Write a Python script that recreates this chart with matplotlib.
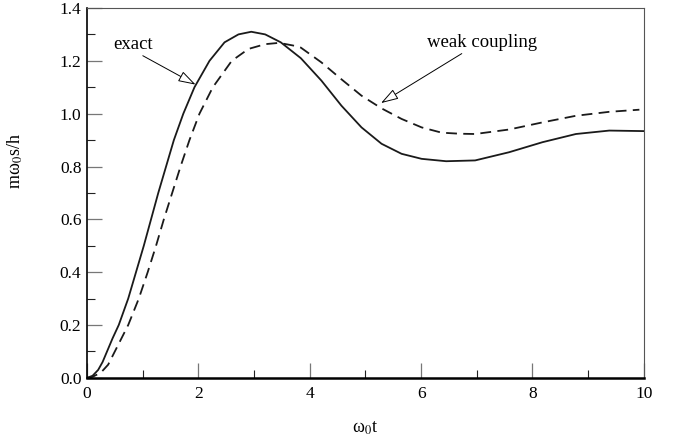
import numpy as np
import matplotlib
matplotlib.use("Agg")
import matplotlib.pyplot as plt
from matplotlib.ticker import MultipleLocator, FormatStrFormatter

plt.rcParams['font.family'] = ['Liberation Serif', 'DejaVu Serif']
plt.rcParams['mathtext.fontset'] = 'stix'

# exact solution (solid line)
t_exact = [0.0, 0.1, 0.2, 0.28, 0.36, 0.46, 0.57, 0.74, 0.88, 1.02, 1.15,
           1.28, 1.42, 1.56, 1.73, 1.93, 2.2, 2.47, 2.72, 2.95, 3.2, 3.48,
           3.84, 4.21, 4.57, 4.93, 5.29, 5.65, 6.01, 6.45, 6.97, 7.58, 8.18,
           8.78, 9.38, 10.0]
v_exact = [0.0, 0.008, 0.03, 0.06, 0.1, 0.15, 0.2, 0.3, 0.4, 0.5, 0.6,
           0.7, 0.8, 0.9, 1.0, 1.1, 1.2, 1.27, 1.3, 1.31, 1.3, 1.27,
           1.21, 1.125, 1.03, 0.948, 0.886, 0.848, 0.829, 0.82, 0.823, 0.854,
           0.892, 0.923, 0.936, 0.934]

# weak coupling approximation (dashed line)
t_weak = [0.0, 0.1, 0.25, 0.38, 0.5, 0.62, 0.74, 0.93, 1.09, 1.24, 1.38,
          1.53, 1.68, 1.84, 2.02, 2.26, 2.6, 2.9, 3.2, 3.45, 3.7, 3.84, 4.21,
          4.57, 4.93, 5.29, 5.65, 6.01, 6.37, 6.7, 6.97, 7.58, 8.18, 8.78,
          9.38, 9.92]
v_weak = [0.0, 0.004, 0.02, 0.05, 0.1, 0.15, 0.2, 0.3, 0.4, 0.5, 0.6,
          0.7, 0.8, 0.9, 1.0, 1.1, 1.2, 1.245, 1.263, 1.268, 1.258, 1.25,
          1.194, 1.13, 1.068, 1.02, 0.98, 0.948, 0.928, 0.924, 0.923, 0.94,
          0.967, 0.992, 1.007, 1.015]

fig = plt.figure(figsize=(6.77, 4.43), dpi=100)
ax = fig.add_axes([0.1285, 0.147, 0.8225, 0.835])

ax.plot(t_exact, v_exact, color='#1a1a1a', lw=1.3)
ax.plot(t_weak, v_weak, color='#1a1a1a', lw=1.3, dashes=(6, 3.5))

ax.set_xlim(0, 10)
ax.set_ylim(0, 1.4)
ax.xaxis.set_major_locator(MultipleLocator(2))
ax.xaxis.set_minor_locator(MultipleLocator(1))
ax.yaxis.set_major_locator(MultipleLocator(0.2))
ax.yaxis.set_minor_locator(MultipleLocator(0.1))
ax.xaxis.set_major_formatter(FormatStrFormatter('%d'))
ax.yaxis.set_major_formatter(FormatStrFormatter('%.1f'))

ax.tick_params(which='both', direction='in', top=False, right=False,
               labelsize=12.5)
ax.tick_params(which='major', length=10.5, width=0.9, color='#777777')
ax.tick_params(which='minor', length=5.5, width=0.8, color='#222222')
ax.tick_params(axis='x', which='major', pad=6)
ax.tick_params(axis='y', which='major', pad=4)

ax.spines['bottom'].set_linewidth(1.8)
ax.spines['left'].set_linewidth(1.2)
ax.spines['top'].set_linewidth(0.8)
ax.spines['right'].set_linewidth(0.8)
ax.spines['top'].set_color('#555555')
ax.spines['right'].set_color('#555555')

ax.set_xlabel('ω$_0$t', fontsize=13)
ax.xaxis.set_label_coords(0.5, -0.113)
ax.set_ylabel('mω$_0$s/h', fontsize=13)
ax.yaxis.set_label_coords(-0.112, 0.586)

arrow = dict(arrowstyle='-|>,head_length=0.8,head_width=0.25', fc='white',
             ec='black', lw=0.7, shrinkA=0, shrinkB=0)
ax.annotate('exact', xy=(1.95, 1.11), xytext=(0.47, 1.262), fontsize=13.5,
            va='center', ha='left', arrowprops=dict(arrow, relpos=(0.62, 0.0)))
ax.annotate('weak coupling', xy=(5.28, 1.04), xytext=(6.1, 1.27),
            fontsize=13.5, va='center', ha='left',
            arrowprops=dict(arrow, relpos=(0.36, 0.0)))

fig.savefig('out.png', dpi=100)
